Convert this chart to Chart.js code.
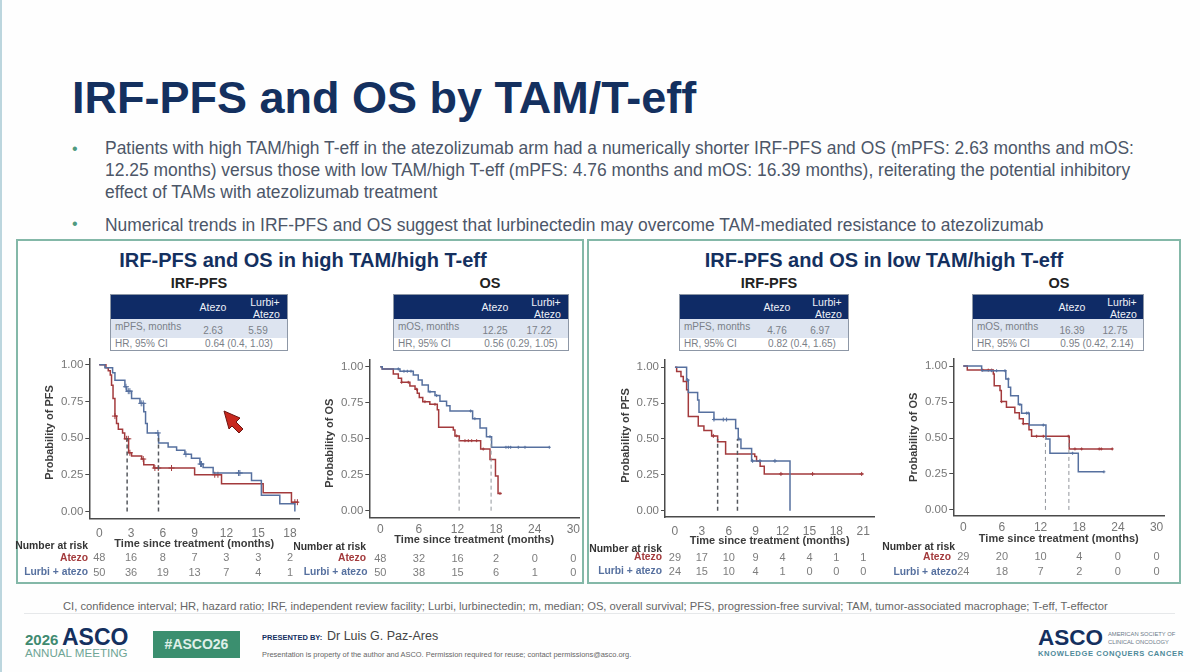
<!DOCTYPE html>
<html>
<head>
<meta charset="utf-8">
<title>IRF-PFS and OS by TAM/T-eff</title>
<script src="https://cdn.jsdelivr.net/npm/chart.js@4"></script>
<style>
  html, body { margin: 0; padding: 0; background: #fff; }
  #slide { position: relative; width: 1200px; height: 672px; overflow: hidden; background: #fefefe;
           font-family: "Liberation Sans", Arial, sans-serif; }
  #slide > * { position: absolute; }
  .t { white-space: nowrap; }
  .panel { border: 2px solid #84b8a8; box-sizing: border-box; background: #fff; }
  canvas { position: absolute; }
  .center { transform: translateX(-50%); }
  .tbl { font-size: 10px; line-height: 12px; color: #7a8088; box-sizing: border-box; border: 1px solid #8d97a6; background: #fff; }
  .tbl .hd { position: absolute; left: 0; right: 0; top: 0; height: 24px; background: #0f2b66; }
  .tbl .r1 { position: absolute; left: 0; right: 0; top: 24px; height: 19px; background: #dde4f0; }
  .tbl span { position: absolute; white-space: nowrap; }
  .tbl .w { color: #eef1f7; text-align: center; font-size: 10.5px; }
</style>
</head>
<body>
<div id="slide">
  <div style="left:0;top:0;width:2px;height:672px;background:#bcd6de"></div>
  <div class="t" style="left:72px;top:72px;font-size:45px;font-weight:bold;color:#14305f">IRF-PFS and OS by TAM/T-eff</div>

  <div class="t" style="left:72px;top:140px;font-size:16px;color:#4f9a7f">•</div>
  <div class="t" style="left:105px;top:138px;font-size:17.45px;line-height:21.8px;color:#4c5668">
    Patients with high TAM/high T-eff in the atezolizumab arm had a numerically shorter IRF-PFS and OS (mPFS: 2.63 months and mOS:<br>
    12.25 months) versus those with low TAM/high T-eff (mPFS: 4.76 months and mOS: 16.39 months), reiterating the potential inhibitory<br>
    effect of TAMs with atezolizumab treatment
  </div>
  <div class="t" style="left:72px;top:215px;font-size:16px;color:#4f9a7f">•</div>
  <div class="t" style="left:105px;top:215px;font-size:17.45px;color:#4c5668">Numerical trends in IRF-PFS and OS suggest that lurbinectedin may overcome TAM-mediated resistance to atezolizumab</div>

  <div class="panel" style="left:16px;top:239px;width:568px;height:345px"></div>
  <div class="panel" style="left:587px;top:239px;width:594px;height:345px"></div>

  <div class="t center" style="left:303px;top:249px;font-size:20px;font-weight:bold;color:#14305f">IRF-PFS and OS in high TAM/high T-eff</div>
  <div class="t center" style="left:884px;top:249px;font-size:20px;font-weight:bold;color:#14305f">IRF-PFS and OS in low TAM/high T-eff</div>
  <div class="t center" style="left:199px;top:275px;font-size:14.5px;font-weight:bold;color:#222">IRF-PFS</div>
  <div class="t center" style="left:490px;top:275px;font-size:14.5px;font-weight:bold;color:#222">OS</div>
  <div class="t center" style="left:769px;top:275px;font-size:14.5px;font-weight:bold;color:#222">IRF-PFS</div>
  <div class="t center" style="left:1059px;top:275px;font-size:14.5px;font-weight:bold;color:#222">OS</div>

  <div id="tables"></div>

  <canvas id="pfsHigh" width="300" height="240" style="left:8px;top:350px"></canvas>
  <canvas id="osHigh" width="294" height="240" style="left:294px;top:350px"></canvas>
  <canvas id="pfsLow" width="295" height="240" style="left:588px;top:350px"></canvas>
  <canvas id="osLow" width="292" height="240" style="left:881px;top:350px"></canvas>

  <svg style="left:221px;top:409px" width="26" height="26" viewBox="0 0 26 26">
    <polygon points="3,2 19,9 15,13 22,20 18,24 11,17 8,20" fill="#c8281e" stroke="#6b1512" stroke-width="1"/>
  </svg>

  <div class="t" style="left:63px;top:600px;font-size:11.2px;color:#666">CI, confidence interval; HR, hazard ratio; IRF, independent review facility; Lurbi, lurbinectedin; m, median; OS, overall survival; PFS, progression-free survival; TAM, tumor-associated macrophage; T-eff, T-effector</div>
  <div style="left:24px;top:613px;width:1151px;height:1px;background:#e6e8ea"></div>

  <div class="t" style="left:25px;top:631px;font-size:15px;color:#3f8a70;font-weight:bold">2026</div>
  <div class="t" style="left:62px;top:624px;font-size:23px;color:#14305f;font-weight:bold">ASCO</div>
  <div class="t" style="left:25px;top:646px;font-size:11.6px;color:#6fa595">ANNUAL MEETING</div>
  <div class="t" style="left:153px;top:631px;width:87px;height:27px;background:#3b8f6f;color:#dff0e8;font-size:14px;font-weight:bold;line-height:27px;text-align:center">#ASCO26</div>
  <div class="t" style="left:262px;top:633px;font-size:7.5px;font-weight:bold;color:#14305f">PRESENTED BY:</div>
  <div class="t" style="left:327px;top:629px;font-size:12.5px;color:#444">Dr Luis G. Paz-Ares</div>
  <div class="t" style="left:262px;top:650px;font-size:7.45px;color:#666">Presentation is property of the author and ASCO. Permission required for reuse; contact permissions@asco.org.</div>

  <div class="t" style="left:1038px;top:625px;font-size:22.5px;color:#14305f;font-weight:bold">ASCO</div>
  <div class="t" style="left:1108px;top:630px;font-size:5.8px;line-height:8px;color:#6d7a88">AMERICAN SOCIETY OF<br>CLINICAL ONCOLOGY</div>
  <div class="t" style="left:1038px;top:649px;font-size:7.6px;font-weight:bold;letter-spacing:.6px;color:#4f8a9a">KNOWLEDGE CONQUERS CANCER</div>
</div>

<script>
"use strict"

// IRF-PFS, high TAM/high T-eff
const pfsHighTicks = [0, 3, 6, 9, 12, 15, 18];
const pfsHighAtezoT = [0, 0.63, 0.85, 1.04, 1.16, 1.3, 1.48, 1.63, 1.8, 2.2, 2.4, 2.77, 3.05, 4.0, 4.2, 5.15, 9.0, 11.54, 15.47, 18.14, 18.8];
const pfsHighAtezoS = [1, 0.98, 0.96, 0.93, 0.86, 0.77, 0.65, 0.6, 0.56, 0.535, 0.495, 0.4, 0.377, 0.357, 0.318, 0.296, 0.25, 0.188, 0.128, 0.063, 0.063];
const pfsHighLurbiT = [0, 0.53, 1.26, 1.48, 2.42, 2.58, 3.05, 3.84, 4.2, 4.37, 4.53, 5.6, 6.5, 7.3, 8.08, 8.7, 9.5, 9.8, 10.75, 14.37, 15.3, 17.04, 18.46];
const pfsHighLurbiS = [1, 0.98, 0.946, 0.895, 0.85, 0.82, 0.77, 0.737, 0.68, 0.6, 0.535, 0.466, 0.44, 0.417, 0.39, 0.363, 0.323, 0.3, 0.262, 0.21, 0.11, 0.052, 0];
const pfsHighAtezoCens = [1.48, 2.58, 2.74, 2.89, 4.15, 5.25, 5.57, 6.82, 10.9, 11.2, 18.46, 18.7];
const pfsHighLurbiCens = [2.52, 2.74, 2.89, 3.96, 4.15, 5.53, 8.18, 9.56, 9.65, 13.14, 13.27];
const pfsHighMedians = [2.63, 5.59];
const pfsHighAtezoRisk = [48, 16, 8, 7, 3, 3, 2];
const pfsHighLurbiRisk = [50, 36, 19, 13, 7, 4, 1];

// OS, high TAM/high T-eff
const osHighTicks = [0, 6, 12, 18, 24, 30];
const osHighAtezoT = [0, 0.3, 2.02, 2.8, 3.3, 4.6, 5.4, 5.75, 6.06, 6.6, 7.7, 8.86, 9.07, 11.35, 11.6, 12.28, 15.6, 17.05, 17.9, 18.3, 18.86];
const osHighAtezoS = [1, 0.984, 0.949, 0.919, 0.891, 0.866, 0.843, 0.815, 0.785, 0.757, 0.738, 0.7, 0.579, 0.56, 0.519, 0.486, 0.428, 0.356, 0.24, 0.12, 0.12];
const osHighLurbiT = [0, 0.3, 3.06, 5.13, 5.9, 6.5, 7.46, 8.5, 9.27, 10.3, 10.83, 14.35, 15.5, 16.5, 17.3, 26.27];
const osHighLurbiS = [1, 0.984, 0.968, 0.942, 0.907, 0.873, 0.826, 0.799, 0.76, 0.729, 0.692, 0.639, 0.574, 0.514, 0.44, 0.44];
const osHighAtezoCens = [3.32, 4.35, 5.65, 6.94, 8.5, 11.87, 13.16, 13.68, 14.2, 14.97, 16.0, 18.6];
const osHighLurbiCens = [2.8, 3.68, 4.2, 4.77, 7.72, 8.76, 14.04, 14.7, 17.05, 19.53, 19.9, 20.26, 21.45, 22.49, 26.27];
const osHighMedians = [12.25, 17.22];
const osHighAtezoRisk = [48, 32, 16, 2, 0, 0];
const osHighLurbiRisk = [50, 38, 15, 6, 1, 0];

// IRF-PFS, low TAM/high T-eff
const pfsLowTicks = [0, 3, 6, 9, 12, 15, 18, 21];
const pfsLowAtezoT = [0, 0.19, 0.67, 0.93, 1.3, 1.49, 2.6, 3.23, 4.09, 4.76, 5.65, 8.9, 9.1, 9.5, 9.96, 21];
const pfsLowAtezoS = [1, 0.97, 0.935, 0.9, 0.842, 0.656, 0.59, 0.558, 0.521, 0.481, 0.395, 0.377, 0.347, 0.309, 0.256, 0.256];
const pfsLowLurbiT = [0, 1.3, 1.49, 2.53, 2.68, 4.35, 6.77, 7.06, 7.36, 8.55, 12.83];
const pfsLowLurbiS = [1, 0.91, 0.823, 0.772, 0.686, 0.635, 0.572, 0.498, 0.433, 0.347, 0];
const pfsLowAtezoCens = [4.28, 11.82, 15.35, 20.82];
const pfsLowLurbiCens = [1.41, 4.35, 5.39, 5.76, 7.14, 8.66, 9.48, 11.15];
const pfsLowMedians = [4.76, 6.97];
const pfsLowAtezoRisk = [29, 17, 10, 9, 4, 4, 1, 1];
const pfsLowLurbiRisk = [24, 15, 10, 4, 1, 0, 0, 0];

// OS, low TAM/high T-eff
const osLowTicks = [0, 6, 12, 18, 24, 30];
const osLowAtezoT = [0, 0.62, 4.66, 4.8, 5.7, 5.9, 6.7, 8.0, 8.7, 9.3, 10.2, 10.6, 16.45, 23.2];
const osLowAtezoS = [1, 0.972, 0.945, 0.864, 0.83, 0.753, 0.714, 0.675, 0.634, 0.6, 0.558, 0.512, 0.424, 0.424];
const osLowLurbiT = [0, 2.85, 6.6, 7.0, 7.35, 8.54, 9.05, 10.24, 12.83, 13.45, 17.85, 21.83];
const osLowLurbiS = [1, 0.968, 0.91, 0.853, 0.793, 0.733, 0.673, 0.59, 0.493, 0.394, 0.265, 0.265];
const osLowAtezoCens = [3.0, 3.88, 4.4, 5.95, 9.31, 11.38, 12.42, 16.3, 17.33, 18.37, 21.1, 21.42, 23.12];
const osLowLurbiCens = [4.4, 5.17, 6.47, 6.98, 8.79, 9.83, 10.09, 12.42, 16.97, 21.83];
const osLowMedians = [12.75, 16.39];
const osLowAtezoRisk = [29, 20, 10, 4, 0, 0];
const osLowLurbiRisk = [24, 18, 7, 2, 0, 0];

const yTicks = [0, 0.25, 0.5, 0.75, 1];
const medianTop = 0.5;

const RED = "#a33a3c";
const BLUE = "#56709f";

// survival at time t
function survival(times, values, t) {
  let s = values[0];
  for (let i = 0; i < times.length; i++) {
    if (times[i] <= t) s = values[i];
  }
  return s;
}

function curve(times, values) {
  return times.map((t, i) => ({ x: t, y: values[i] }));
}

function censorPoints(cens, times, values) {
  return cens.map(t => ({ x: t, y: survival(times, values, t) }));
}

// draws the number at risk table under the x axis
const atRiskPlugin = {
  id: "atRisk",
  afterDraw(chart, args, o) {
    const ctx = chart.ctx;
    const xs = chart.scales.x;
    const top = o.canvasTop;
    ctx.save();
    ctx.textBaseline = "middle";
    ctx.textAlign = "right";
    ctx.font = "bold 10.4px 'Liberation Sans'";
    ctx.fillStyle = "#333";
    ctx.fillText("Number at risk", o.titleX - o.canvasLeft, o.titleY - top);
    ctx.font = "bold 10.3px 'Liberation Sans'";
    ctx.fillStyle = RED;
    ctx.fillText("Atezo", o.atezoX - o.canvasLeft, o.atezoY - top);
    ctx.fillStyle = BLUE;
    ctx.fillText("Lurbi + atezo", o.lurbiX - o.canvasLeft, o.lurbiY - top);
    ctx.textAlign = "center";
    ctx.font = "11px 'Liberation Sans'";
    ctx.fillStyle = "#7d7d7d";
    o.ticks.forEach((v, i) => {
      ctx.fillText(o.atezo[i], xs.getPixelForValue(v), o.atezoNumY - top);
      ctx.fillText(o.lurbi[i], xs.getPixelForValue(v), o.lurbiNumY - top);
    });
    ctx.restore();
  }
};

function makeChart(c) {
  const canvas = document.getElementById(c.id);
  const canvasLeft = parseFloat(canvas.style.left);
  const canvasTop = parseFloat(canvas.style.top);
  const yBox = 46;
  const xBox = c.xTitleY + 7 - c.bottom;

  const medians = c.medians.map(m => ({
    data: [{ x: m, y: 0 }, { x: m, y: medianTop }],
    showLine: true,
    pointRadius: 0,
    borderColor: c.medianColor,
    borderWidth: c.medianWidth,
    borderDash: [4, 3]
  }));

  const series = (times, values, cens, color) => [
    {
      data: curve(times, values),
      showLine: true,
      stepped: "before",
      pointRadius: 0,
      borderColor: color,
      borderWidth: 1.5
    },
    {
      data: censorPoints(cens, times, values),
      showLine: false,
      pointStyle: "cross",
      pointRadius: c.censorSize,
      borderColor: color,
      borderWidth: 1
    }
  ];

  return new Chart(canvas, {
    type: "scatter",
    data: {
      datasets: medians.concat(
        series(c.lurbiT, c.lurbiS, c.lurbiCens, BLUE),
        series(c.atezoT, c.atezoS, c.atezoCens, RED)
      )
    },
    plugins: [atRiskPlugin],
    options: {
      responsive: false,
      animation: false,
      layout: {
        padding: {
          left: c.left - yBox - canvasLeft,
          top: c.top - canvasTop,
          right: canvasLeft + canvas.width - c.right,
          bottom: canvasTop + canvas.height - c.xTitleY - 7
        }
      },
      plugins: {
        legend: { display: false },
        tooltip: { enabled: false },
        atRisk: Object.assign({ canvasLeft, canvasTop, ticks: c.ticks, atezo: c.atezoRisk, lurbi: c.lurbiRisk }, c.risk)
      },
      scales: {
        x: {
          type: "linear",
          min: c.xMin,
          max: c.xMax,
          afterBuildTicks: s => { s.ticks = c.ticks.map(v => ({ value: v })); },
          afterFit: s => { s.height = xBox; },
          grid: { display: false, drawTicks: false },
          border: { display: true, color: "#4a4a4a", width: 1.5 },
          ticks: { color: "#777", font: { size: 12, family: "Liberation Sans" }, padding: c.xTickPad, maxRotation: 0, autoSkip: false },
          title: {
            display: true,
            text: "Time since treatment (months)",
            color: "#3c3c3c",
            font: { size: 11, weight: "bold", family: "Liberation Sans" },
            padding: 0
          }
        },
        y: {
          type: "linear",
          min: c.yMin,
          max: c.yMax,
          afterBuildTicks: s => { s.ticks = yTicks.map(v => ({ value: v })); },
          afterFit: s => { s.width = yBox; },
          grid: { drawOnChartArea: false, drawTicks: true, tickLength: 4, color: "#4a4a4a" },
          border: { display: true, color: "#4a4a4a", width: 1.5 },
          ticks: { color: "#777", font: { size: 11.5, family: "Liberation Sans" }, padding: 2, callback: v => v.toFixed(2) },
          title: {
            display: true,
            text: c.yTitle,
            color: "#3c3c3c",
            font: { size: 11, weight: "bold", family: "Liberation Sans" },
            padding: 0
          }
        }
      }
    }
  });
}

makeChart({
  id: "pfsHigh", yTitle: "    Probability of PFS",
  left: 89.3, right: 299.3, top: 356.7, bottom: 518.3, xTitleY: 543.3, xTickPad: 8,
  xMin: -0.94, xMax: 18.88, yMin: -0.047, yMax: 1.04,
  ticks: pfsHighTicks, medians: pfsHighMedians, medianColor: "#55585e", medianWidth: 1.5, censorSize: 3,
  atezoT: pfsHighAtezoT, atezoS: pfsHighAtezoS, atezoCens: pfsHighAtezoCens, atezoRisk: pfsHighAtezoRisk,
  lurbiT: pfsHighLurbiT, lurbiS: pfsHighLurbiS, lurbiCens: pfsHighLurbiCens, lurbiRisk: pfsHighLurbiRisk,
  risk: { titleX: 88, titleY: 546, atezoX: 88, atezoY: 558, lurbiX: 88, lurbiY: 571.7, atezoNumY: 558.3, lurbiNumY: 572.7 }
});

makeChart({
  id: "osHigh", yTitle: "Probability of OS   ",
  left: 369.3, right: 579.3, top: 360, bottom: 517.3, xTitleY: 539.3, xTickPad: 5,
  xMin: -1.71, xMax: 30.93, yMin: -0.046, yMax: 1.046,
  ticks: osHighTicks, medians: osHighMedians, medianColor: "#92969c", medianWidth: 1, censorSize: 1.5,
  atezoT: osHighAtezoT, atezoS: osHighAtezoS, atezoCens: osHighAtezoCens, atezoRisk: osHighAtezoRisk,
  lurbiT: osHighLurbiT, lurbiS: osHighLurbiS, lurbiCens: osHighLurbiCens, lurbiRisk: osHighLurbiRisk,
  risk: { titleX: 366, titleY: 546.7, atezoX: 366, atezoY: 558, lurbiX: 367.5, lurbiY: 571.7, atezoNumY: 558.7, lurbiNumY: 572.7 }
});

makeChart({
  id: "pfsLow", yTitle: "  Probability of PFS",
  left: 665, right: 874.3, top: 360, bottom: 517, xTitleY: 541, xTickPad: 7,
  xMin: -1.11, xMax: 22.23, yMin: -0.044, yMax: 1.05,
  ticks: pfsLowTicks, medians: pfsLowMedians, medianColor: "#55585e", medianWidth: 1.5, censorSize: 2,
  atezoT: pfsLowAtezoT, atezoS: pfsLowAtezoS, atezoCens: pfsLowAtezoCens, atezoRisk: pfsLowAtezoRisk,
  lurbiT: pfsLowLurbiT, lurbiS: pfsLowLurbiS, lurbiCens: pfsLowLurbiCens, lurbiRisk: pfsLowLurbiRisk,
  risk: { titleX: 662, titleY: 548.7, atezoX: 662, atezoY: 557.3, lurbiX: 662, lurbiY: 570.7, atezoNumY: 558, lurbiNumY: 571.7 }
});

makeChart({
  id: "osLow", yTitle: "Probability of OS",
  left: 953.3, right: 1164.3, top: 358, bottom: 515.7, xTitleY: 538.3, xTickPad: 5,
  xMin: -1.55, xMax: 31.2, yMin: -0.04, yMax: 1.05,
  ticks: osLowTicks, medians: osLowMedians, medianColor: "#92969c", medianWidth: 1, censorSize: 1.5,
  atezoT: osLowAtezoT, atezoS: osLowAtezoS, atezoCens: osLowAtezoCens, atezoRisk: osLowAtezoRisk,
  lurbiT: osLowLurbiT, lurbiS: osLowLurbiS, lurbiCens: osLowLurbiCens, lurbiRisk: osLowLurbiRisk,
  risk: { titleX: 955, titleY: 547.3, atezoX: 951, atezoY: 557.3, lurbiX: 957.3, lurbiY: 572.3, atezoNumY: 557.3, lurbiNumY: 572.3 }
});

// median summary tables above each plot
const tableRowNames = ["mPFS, months", "mOS, months", "mPFS, months", "mOS, months"];
const tableAtezo = ["2.63", "12.25", "4.76", "16.39"];
const tableLurbi = ["5.59", "17.22", "6.97", "12.75"];
const tableHr = ["0.64 (0.4, 1.03)", "0.56 (0.29, 1.05)", "0.82 (0.4, 1.65)", "0.95 (0.42, 2.14)"];
const tableLeft = [110, 393, 679, 972];
const tableWidth = [178, 176, 170, 172];

const tables = document.getElementById("tables");
tableAtezo.forEach((v, i) => {
  const w = tableWidth[i];
  const d = document.createElement("div");
  d.className = "tbl";
  d.style.cssText = "position:absolute;left:" + tableLeft[i] + "px;top:294px;width:" + w + "px;height:57px";
  const a = Math.round(w * 0.573), b = Math.round(w * 0.865), c = Math.round(w * 0.824);
  d.innerHTML =
    '<div class="hd"></div><div class="r1"></div>' +
    '<span class="w" style="left:' + a + 'px;top:6px;transform:translateX(-50%)">Atezo</span>' +
    '<span class="w" style="left:' + b + 'px;top:1px;transform:translateX(-50%)">Lurbi+<br>&nbsp;Atezo</span>' +
    '<span style="left:4px;top:26px">' + tableRowNames[i] + "</span>" +
    '<span style="left:' + a + 'px;top:30px;transform:translateX(-50%)">' + v + "</span>" +
    '<span style="left:' + c + 'px;top:30px;transform:translateX(-50%)">' + tableLurbi[i] + "</span>" +
    '<span style="left:4px;top:43px">HR, 95% CI</span>' +
    '<span style="left:' + Math.round(w * 0.72) + 'px;top:43px;transform:translateX(-50%)">' + tableHr[i] + "</span>";
  tables.appendChild(d);
});
</script>
</body>
</html>
